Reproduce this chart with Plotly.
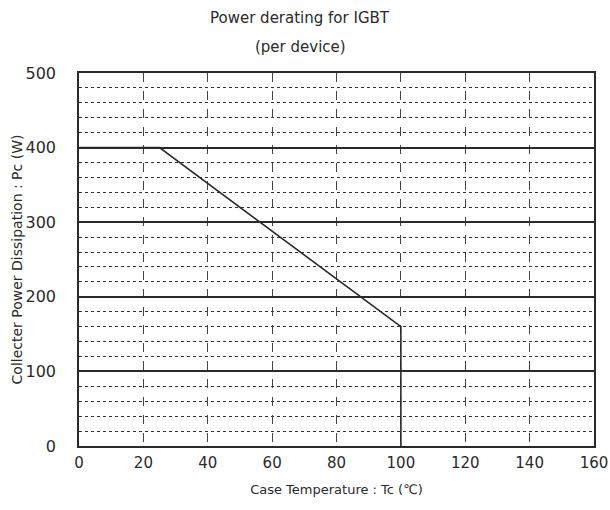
import plotly.graph_objects as go

# Data
case_temp = [0, 25, 100, 100]
power = [400, 400, 160, 0]
x_ticks = [0, 20, 40, 60, 80, 100, 120, 140, 160]
y_ticks = [0, 100, 200, 300, 400, 500]
title_lines = ["Power derating for IGBT", "(per device)"]

ink = "#2a2a2a"
font = dict(family="DejaVu Sans, Arial, sans-serif", size=14, color=ink)

fig = go.Figure()
fig.add_trace(go.Scatter(x=case_temp, y=power, mode="lines",
                         line=dict(color=ink, width=1.6), showlegend=False))

fig.update_layout(
    width=610, height=510,
    paper_bgcolor="white", plot_bgcolor="white",
    margin=dict(l=79, r=16, t=73, b=64, autoexpand=False),
    font=font,
)
fig.add_annotation(text=title_lines[0], xref="paper", yref="paper", x=0.43, y=1.147,
                   showarrow=False, font=dict(size=15, color=ink), yanchor="middle")
fig.add_annotation(text=title_lines[1], xref="paper", yref="paper", x=0.43, y=1.07,
                   showarrow=False, font=dict(size=15, color=ink), yanchor="middle")

fig.update_xaxes(
    range=[0, 160], tickvals=x_ticks, ticks="outside", ticklen=2, tickcolor="white",
    showline=True, mirror=True, automargin=False,
    linecolor=ink, linewidth=1.5,
    showgrid=True, gridcolor="#444", gridwidth=1, griddash="dash",
    zeroline=False,
    title=dict(text="Case Temperature : Tc (℃)", font=dict(size=13, color=ink), standoff=14),
    tickfont=dict(size=15, color=ink),
)
fig.update_yaxes(
    range=[0, 500], tickvals=y_ticks, ticks="outside", ticklen=18, tickcolor="white",
    showline=True, mirror=True, automargin=False,
    linecolor=ink, linewidth=1.5,
    showgrid=True, gridcolor=ink, gridwidth=1.5,
    minor=dict(dtick=20, showgrid=True, gridcolor="#333", gridwidth=1.3, griddash="dot"),
    zeroline=False,
    title=dict(text="Collecter Power Dissipation : Pc (W)", font=dict(size=14, color=ink), standoff=0),
    tickfont=dict(size=16, color=ink),
)

fig.write_html("out.html", config={"displayModeBar": False},
               post_script="document.body.style.margin='0';document.body.style.overflow='hidden';")
